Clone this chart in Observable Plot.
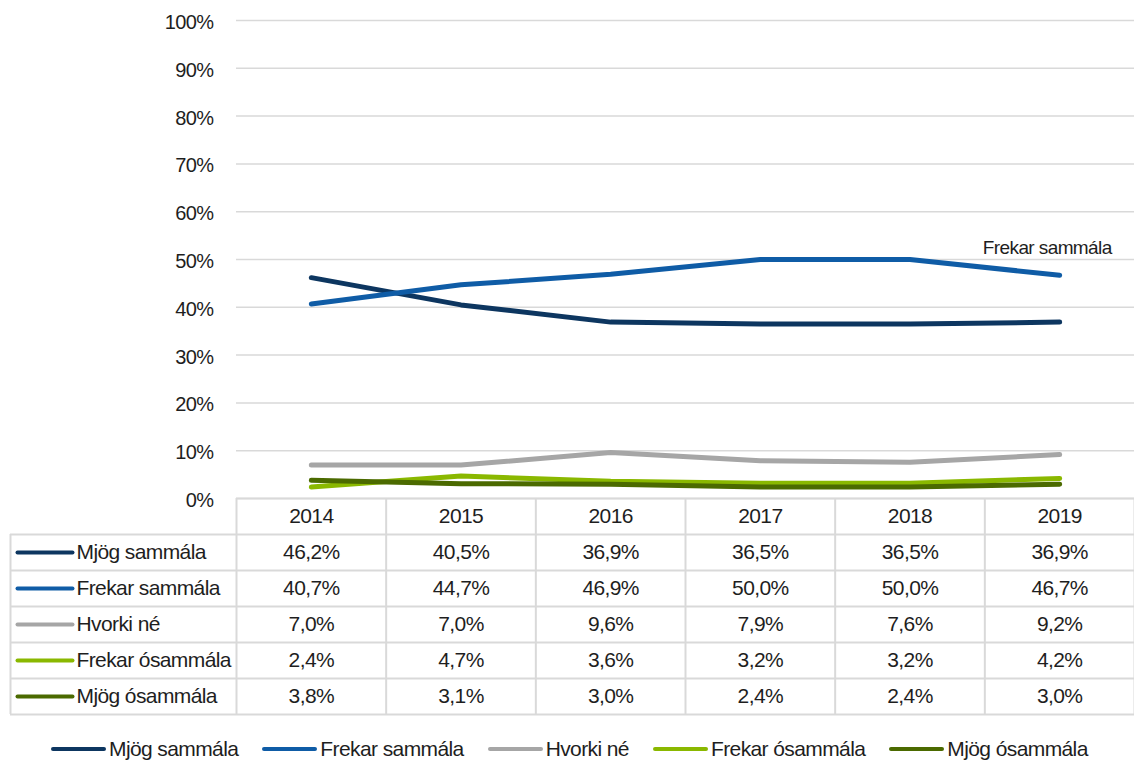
<!DOCTYPE html>
<html><head><meta charset="utf-8">
<script src="https://cdn.jsdelivr.net/npm/d3@7"></script>
<script src="https://cdn.jsdelivr.net/npm/@observablehq/plot@0.6"></script>
<style>
html,body{margin:0;padding:0;background:#fff;}
body{width:1134px;height:762px;position:relative;overflow:hidden;font-family:"Liberation Sans",Arial,sans-serif;color:#1e1e1e;}
#table,#chart,#legend{position:absolute;left:0;}
#chart{top:0;} #table{top:497px;} #legend{top:737px;left:51px;display:flex;gap:24px;align-items:center;font-size:21px;letter-spacing:-0.6px;white-space:nowrap;}
.item{display:flex;align-items:center;gap:3px;}
.key{width:55px;height:4px;border-radius:2px;}
svg{overflow:visible;}
</style></head><body>
<div id="table"></div><div id="chart"></div><div id="legend"></div>
<script>
const years = [2014, 2015, 2016, 2017, 2018, 2019];
const seriesNames = ["Mjög sammála", "Frekar sammála", "Hvorki né", "Frekar ósammála", "Mjög ósammála"];
const mjogSammala     = [46.2, 40.5, 36.9, 36.5, 36.5, 36.9];
const frekarSammala   = [40.7, 44.7, 46.9, 50.0, 50.0, 46.7];
const hvorkiNe        = [7.0, 7.0, 9.6, 7.9, 7.6, 9.2];
const frekarOsammala  = [2.4, 4.7, 3.6, 3.2, 3.2, 4.2];
const mjogOsammala    = [3.8, 3.1, 3.0, 2.4, 2.4, 3.0];
const seriesColors = ["#0d3660", "#0f5ca6", "#a6a6a6", "#8ab800", "#4b6a00"];
const yTicks = [0, 0.1, 0.2, 0.3, 0.4, 0.5, 0.6, 0.7, 0.8, 0.9, 1.0];
const annotationSeries = "Frekar sammála";

const seriesValues = [mjogSammala, frekarSammala, hvorkiNe, frekarOsammala, mjogOsammala];
const rows = seriesNames.flatMap((s, i) => years.map((yr, j) => ({series: s, year: yr, value: seriesValues[i][j] / 100})));
const fmt = v => v.toFixed(1).replace(".", ",") + "%";
const FONT = '"Liberation Sans", Arial, sans-serif';
const TXT = "#1e1e1e";
const LS = "-0.6px";

// x layout shared by chart and table
const W = 1134, ML = 236;
const xDomain = [years[0] - 0.5, years[years.length - 1] + 0.5];
const pxToX = p => xDomain[0] + (p - ML) * (xDomain[1] - xDomain[0]) / (W - ML);

const annIdx = seriesNames.indexOf(annotationSeries);
const lastJ = years.length - 1;

const chart = Plot.plot({
  width: W, height: 520, marginTop: 20, marginBottom: 22, marginLeft: ML, marginRight: 0,
  style: {background: "transparent", fontFamily: FONT, fontSize: "20px", color: TXT, overflow: "visible", letterSpacing: LS},
  x: {domain: xDomain, axis: null},
  y: {domain: [0, 1]},
  color: {domain: seriesNames, range: seriesColors},
  marks: [
    Plot.ruleY(yTicks, {stroke: "#d9d9d9", strokeWidth: 1.5}),
    Plot.axisY({ticks: yTicks, tickFormat: d3.format(".0%"), tickSize: 0, tickPadding: 23, fontSize: 20, dy: 2, label: null, fill: TXT}),
    Plot.line(rows, {x: "year", y: "value", z: "series", stroke: "series", strokeWidth: 5, strokeLinecap: "round", strokeLinejoin: "round"}),
    Plot.text([annotationSeries], {x: () => years[lastJ], y: () => seriesValues[annIdx][lastJ] / 100, text: d => d,
      textAnchor: "end", dx: 52, dy: -27, fontSize: 19, fill: TXT})
  ]
});
document.getElementById("chart").appendChild(chart);

// Table
const tableCells = years.flatMap((yr, j) => seriesNames.map((s, i) => ({year: yr, row: i + 1, label: fmt(seriesValues[i][j])})));
const labelLeft = pxToX(10);
const keyX1 = pxToX(17), keyX2 = pxToX(72), labelX = pxToX(76);
const border = {stroke: "#d9d9d9", strokeWidth: 2};
const table = Plot.plot({
  width: W, height: 220, marginTop: 1, marginBottom: 3, marginLeft: ML, marginRight: 0,
  style: {background: "transparent", fontFamily: FONT, fontSize: "21px", color: TXT, overflow: "visible", letterSpacing: LS},
  x: {domain: xDomain, axis: null},
  y: {domain: [0, seriesNames.length + 1], reverse: true, axis: null},
  color: {domain: seriesNames, range: seriesColors},
  marks: [
    Plot.ruleX(years.map(y => y - 0.5).concat([xDomain[1]]), {y1: 0, y2: seriesNames.length + 1, ...border}),
    Plot.ruleX([labelLeft], {y1: 1, y2: seriesNames.length + 1, ...border}),
    Plot.ruleY([0], {x1: xDomain[0], x2: xDomain[1], ...border}),
    Plot.ruleY(seriesNames.map((s, i) => i + 1).concat([seriesNames.length + 1]), {x1: labelLeft, x2: xDomain[1], ...border}),
    Plot.text(years, {x: d => d, y: () => 0.5, text: d => String(d), fontSize: 21, fill: TXT}),
    Plot.text(tableCells, {x: "year", y: d => d.row + 0.5, text: "label", fontSize: 21, fill: TXT}),
    Plot.link(seriesNames, {x1: () => keyX1, x2: () => keyX2, y1: (d, i) => i + 1.5, y2: (d, i) => i + 1.5, stroke: d => d, strokeWidth: 4, strokeLinecap: "round"}),
    Plot.text(seriesNames, {x: () => labelX, y: (d, i) => i + 1.5, text: d => d, textAnchor: "start", fontSize: 21, fill: TXT})
  ]
});
document.getElementById("table").appendChild(table);

// Legend
const legend = document.getElementById("legend");
seriesNames.forEach((s, i) => {
  const it = document.createElement("div"); it.className = "item";
  const k = document.createElement("div"); k.className = "key"; k.style.background = seriesColors[i];
  const t = document.createElement("span"); t.textContent = s;
  it.appendChild(k); it.appendChild(t); legend.appendChild(it);
});
</script>
</body></html>
